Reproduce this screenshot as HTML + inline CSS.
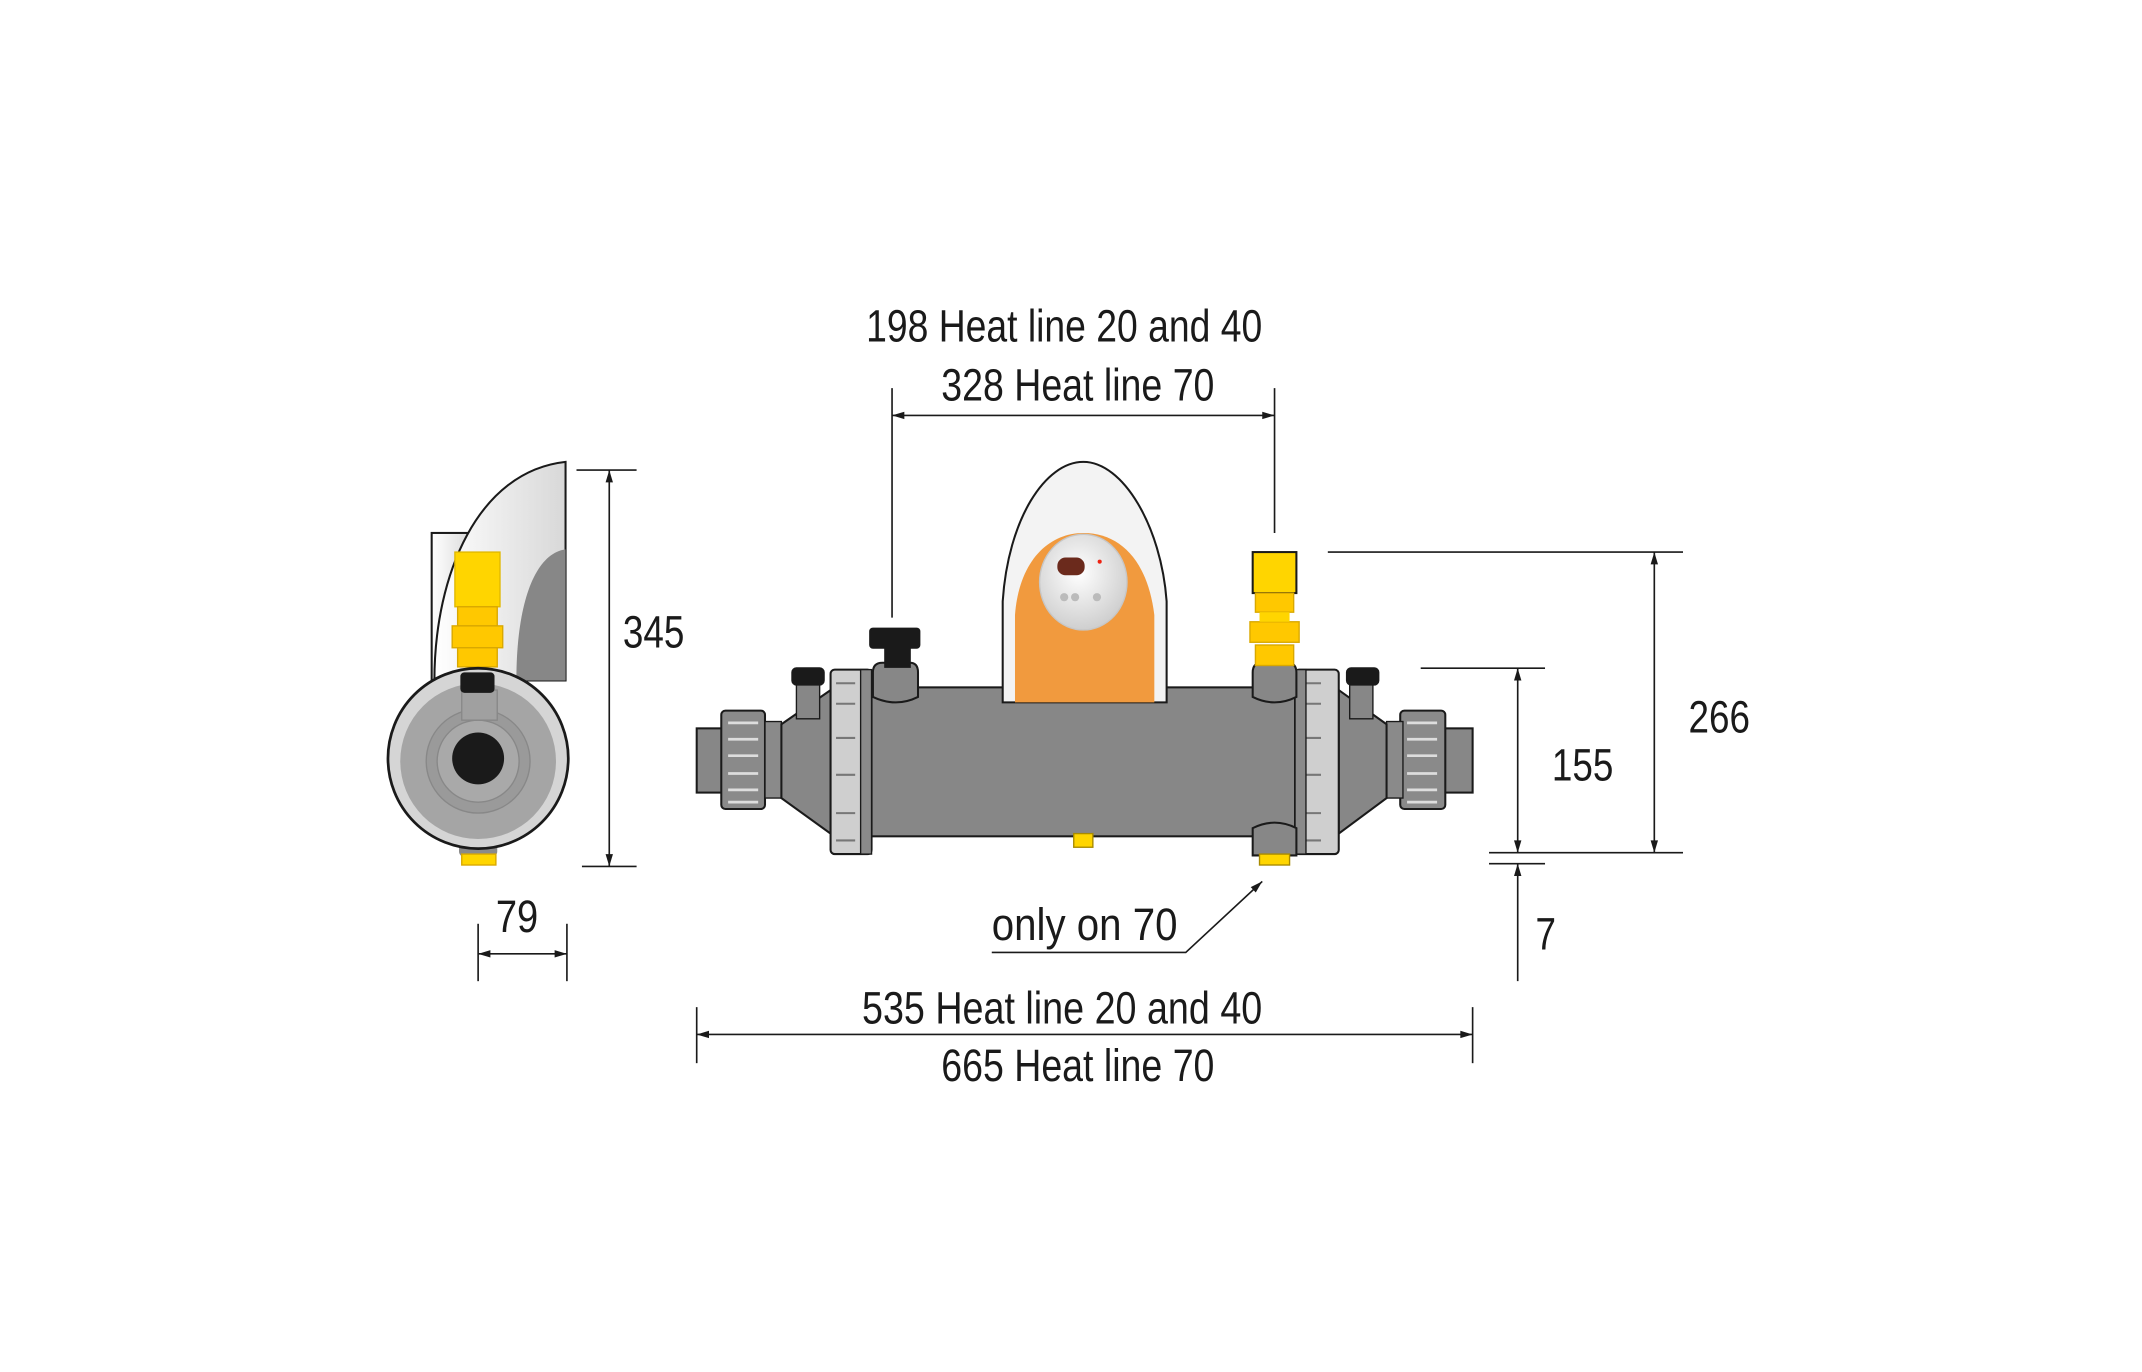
<!DOCTYPE html>
<html><head><meta charset="utf-8"><style>html,body{margin:0;padding:0;background:#fff}svg{display:block}</style></head>
<body>
<svg width="2142" height="1372" viewBox="0 0 1568 1004" preserveAspectRatio="none" xmlns="http://www.w3.org/2000/svg">
<defs>
<marker id="a" viewBox="0 0 10 10" refX="10" refY="5" markerWidth="10" markerHeight="9" orient="auto-start-reverse" markerUnits="userSpaceOnUse"><path d="M0,2 L10,5 L0,8 z" fill="#1a1a1a"/></marker>
<linearGradient id="wg" x1="0" x2="1"><stop offset="0" stop-color="#fff"/><stop offset="1" stop-color="#d8d8d8"/></linearGradient>
<radialGradient id="pg" cx="0.45" cy="0.4" r="0.6"><stop offset="0" stop-color="#fff"/><stop offset="1" stop-color="#cfcfcf"/></radialGradient>
</defs>
<g font-family="Liberation Sans, sans-serif" font-size="33" fill="#1a1a1a">
<text x="634" y="250" textLength="290" lengthAdjust="spacingAndGlyphs">198 Heat line 20 and 40</text>
<text x="689" y="293" textLength="200" lengthAdjust="spacingAndGlyphs">328 Heat line 70</text>
<text x="631" y="749" textLength="293" lengthAdjust="spacingAndGlyphs">535 Heat line 20 and 40</text>
<text x="689" y="791" textLength="200" lengthAdjust="spacingAndGlyphs">665 Heat line 70</text>
<text x="726" y="688" textLength="136" lengthAdjust="spacingAndGlyphs">only on 70</text>
<text x="456" y="474" textLength="45" lengthAdjust="spacingAndGlyphs">345</text>
<text x="363" y="682" textLength="31" lengthAdjust="spacingAndGlyphs">79</text>
<text x="1136" y="571" textLength="45" lengthAdjust="spacingAndGlyphs">155</text>
<text x="1236" y="536" textLength="45" lengthAdjust="spacingAndGlyphs">266</text>
<text x="1124" y="695" textLength="15" lengthAdjust="spacingAndGlyphs">7</text>
</g>
<g stroke="#1a1a1a" stroke-width="1.2" fill="none">
<line x1="653" y1="284" x2="653" y2="452"/><line x1="933" y1="284" x2="933" y2="390"/>
<line x1="653" y1="304" x2="933" y2="304" marker-start="url(#a)" marker-end="url(#a)"/>
<line x1="510" y1="737" x2="510" y2="778"/><line x1="1078" y1="737" x2="1078" y2="778"/>
<line x1="510" y1="757" x2="1078" y2="757" marker-start="url(#a)" marker-end="url(#a)"/>
<line x1="422" y1="344" x2="466" y2="344"/><line x1="426" y1="634" x2="466" y2="634"/>
<line x1="446" y1="344" x2="446" y2="634" marker-start="url(#a)" marker-end="url(#a)"/>
<line x1="350" y1="676" x2="350" y2="718"/><line x1="415" y1="676" x2="415" y2="718"/>
<line x1="350" y1="698" x2="415" y2="698" marker-start="url(#a)" marker-end="url(#a)"/>
<line x1="972" y1="404" x2="1232" y2="404"/><line x1="1090" y1="624" x2="1232" y2="624"/>
<line x1="1211" y1="404" x2="1211" y2="624" marker-start="url(#a)" marker-end="url(#a)"/>
<line x1="1040" y1="489" x2="1131" y2="489"/><line x1="1090" y1="632" x2="1131" y2="632"/>
<line x1="1111" y1="489" x2="1111" y2="624" marker-start="url(#a)" marker-end="url(#a)"/>
<line x1="1111" y1="718" x2="1111" y2="632" marker-end="url(#a)"/>
<polyline points="726,697 868,697 924,645" marker-end="url(#a)"/>
</g>

<g stroke="#1a1a1a">
<rect x="316" y="390" width="30" height="108" fill="url(#wg)" stroke-width="1.5"/>
<path d="M414,338 L414,498 L318,498 C318,420 350,345 414,338 Z" fill="url(#wg)" stroke-width="1.5"/>
<path d="M414,402 L414,498 L378,498 C378,440 392,405 414,402 Z" fill="#878787" stroke="none"/>
<rect x="333" y="404" width="33" height="40" fill="#ffd500" stroke="#e0b800" stroke-width="1"/>
<rect x="335" y="444" width="29" height="14" fill="#ffc800" stroke="#d9a800" stroke-width="1"/>
<rect x="331" y="458" width="37" height="16" fill="#ffc800" stroke="#d9a800" stroke-width="1"/>
<rect x="335" y="474" width="29" height="14" fill="#ffc800" stroke="#d9a800" stroke-width="1"/>
<rect x="336" y="615" width="28" height="12" rx="4" fill="#8a8a8a" stroke="none"/>
<rect x="338" y="625" width="25" height="8" fill="#ffd500" stroke="#d9a800" stroke-width="1"/>
<circle cx="350" cy="555" r="66" fill="#d5d5d5" stroke-width="2"/>
<circle cx="350" cy="557" r="57" fill="#a5a5a5" stroke="none"/>
<circle cx="350" cy="557" r="38" fill="#9a9a9a" stroke="#888" stroke-width="1"/>
<circle cx="350" cy="557" r="30" fill="#a9a9a9" stroke="#888" stroke-width="1"/>
<circle cx="350" cy="555" r="19" fill="#1a1a1a" stroke="none"/>
<rect x="338" y="505" width="26" height="22" fill="#a0a0a0" stroke="#888" stroke-width="1"/>
<rect x="337" y="492" width="25" height="15" rx="3" fill="#1a1a1a" stroke="none"/>
</g>

<g stroke="#1a1a1a" stroke-width="1.5">
<rect x="510" y="533" width="20" height="47" fill="#878787"/>
<rect x="1057" y="533" width="21" height="47" fill="#878787"/>
<rect x="528" y="520" width="32" height="72" rx="3" fill="#8a8a8a"/>
<rect x="1025" y="520" width="33" height="72" rx="3" fill="#8a8a8a"/>
<g stroke="#ddd" stroke-width="2" fill="none">
<path d="M533,529 h22 M533,541 h22 M533,553 h22 M533,566 h22 M533,578 h22 M533,587 h22"/>
<path d="M1030,529 h22 M1030,541 h22 M1030,553 h22 M1030,566 h22 M1030,578 h22 M1030,587 h22"/>
</g>
<rect x="560" y="528" width="12" height="56" fill="#8a8a8a" stroke-width="1"/>
<rect x="1015" y="528" width="12" height="56" fill="#8a8a8a" stroke-width="1"/>
<path d="M572,530 L608,505 L608,610 L572,584 Z" fill="#878787"/>
<path d="M1015,530 L980,505 L980,610 L1015,584 Z" fill="#878787"/>
<rect x="583" y="498" width="17" height="28" fill="#878787" stroke-width="1"/>
<rect x="580" y="489" width="23" height="12" rx="3" fill="#1a1a1a"/>
<rect x="988" y="498" width="17" height="28" fill="#878787" stroke-width="1"/>
<rect x="986" y="489" width="23" height="12" rx="3" fill="#1a1a1a"/>
<rect x="636" y="503" width="314" height="109" fill="#878787"/>
<rect x="608" y="490" width="30" height="135" rx="3" fill="#cfcfcf"/>
<rect x="948" y="490" width="32" height="135" rx="3" fill="#cfcfcf"/>
<g stroke="#777" stroke-width="1.5" fill="none">
<path d="M612,500 h14 M612,515 h14 M612,540 h14 M612,567 h14 M612,595 h14 M612,615 h14"/>
<path d="M953,500 h14 M953,515 h14 M953,540 h14 M953,567 h14 M953,595 h14 M953,615 h14"/>
</g>
<rect x="630" y="490" width="8" height="135" fill="#8a8a8a" stroke-width="1"/>
<rect x="948" y="490" width="8" height="135" fill="#8a8a8a" stroke-width="1"/>
<path d="M639,510 L639,492 Q639,485 646,485 L666,485 Q672,485 672,492 L672,510 Q656,518 639,510 Z" fill="#878787"/>
<rect x="648" y="472" width="18" height="16" fill="#1a1a1a"/>
<rect x="637" y="460" width="36" height="14" rx="2" fill="#1a1a1a"/>
<path d="M917,510 L917,492 Q917,485 924,485 L942,485 Q949,485 949,492 L949,510 Q933,518 917,510 Z" fill="#878787"/>
<path d="M917,606 L917,626 L949,626 L949,606 Q933,598 917,606 Z" fill="#878787"/>
<rect x="922" y="625" width="22" height="8" fill="#ffd500" stroke="#a88a00" stroke-width="1"/>
<rect x="786" y="610" width="14" height="10" fill="#ffd500" stroke="#a88a00" stroke-width="1"/>
<rect x="917" y="404" width="32" height="30" fill="#ffd500"/>
<rect x="919" y="434" width="28" height="14" fill="#ffc800" stroke="#d9a800" stroke-width="1"/>
<rect x="915" y="455" width="36" height="15" fill="#ffc800" stroke="#d9a800" stroke-width="1"/>
<rect x="919" y="472" width="28" height="15" fill="#ffc800" stroke="#d9a800" stroke-width="1"/>
<rect x="922" y="448" width="22" height="7" fill="#ffd500" stroke="none"/>
<path d="M734,514 L734,440 C738,380 765,338 793,338 C822,338 850,385 854,440 L854,514 Z" fill="#f3f3f3"/>
<path d="M743,514 L743,450 C746,410 768,390 793,390 C820,390 840,410 845,450 L845,514 Z" fill="#f19a3e" stroke="none"/>
<ellipse cx="793" cy="426" rx="32" ry="35" fill="url(#pg)" stroke="#c7c7c7" stroke-width="1"/>
<rect x="774" y="408" width="20" height="13" rx="6" fill="#6b2a1c" stroke="none"/>
<circle cx="805" cy="411" r="1.5" fill="#e21" stroke="none"/>
<g fill="#bbb" stroke="none"><circle cx="779" cy="437" r="3"/><circle cx="787" cy="437" r="3"/><circle cx="803" cy="437" r="3"/></g>
</g>
</svg>
</body></html>
